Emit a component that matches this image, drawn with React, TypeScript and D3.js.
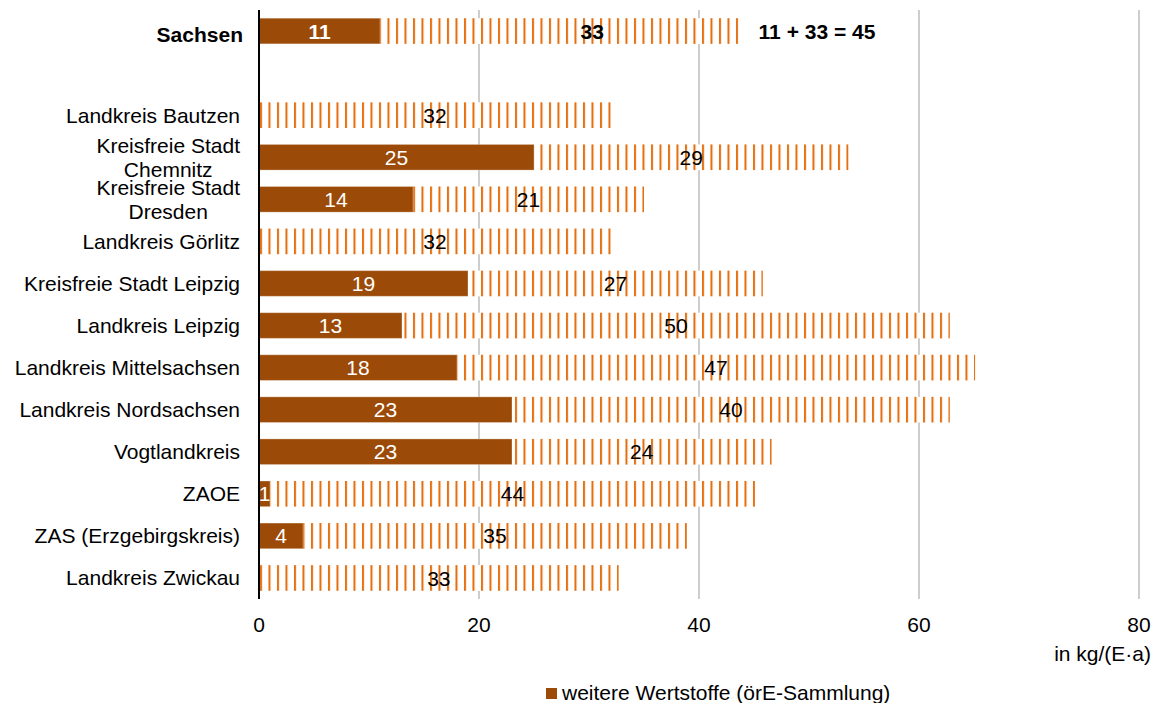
import React, { useEffect, useRef } from "react";
import * as d3 from "d3";

// Regions (an empty slot separates the state total from the districts)
const regions: string[] = [
  "Sachsen",
  "",
  "Landkreis Bautzen",
  "Kreisfreie Stadt\nChemnitz",
  "Kreisfreie Stadt\nDresden",
  "Landkreis Görlitz",
  "Kreisfreie Stadt Leipzig",
  "Landkreis Leipzig",
  "Landkreis Mittelsachsen",
  "Landkreis Nordsachsen",
  "Vogtlandkreis",
  "ZAOE",
  "ZAS (Erzgebirgskreis)",
  "Landkreis Zwickau",
];

// kg per inhabitant and year, solid segment
const weitereWertstoffe: (number | null)[] = [11, null, 0, 25, 14, 0, 19, 13, 18, 23, 23, 1, 4, 0];
// kg per inhabitant and year, hatched segment
const hatchedValues: (number | null)[] = [32.6, null, 32, 28.6, 21, 32, 26.8, 49.8, 47.1, 39.8, 23.6, 44.1, 34.9, 32.7];

const xTicks = [0, 20, 40, 60, 80];
const totalLabel = "11 + 33 = 45";
const unitLabel = "in kg/(E·a)";
const legendLabel = "weitere Wertstoffe (örE-Sammlung)";

const W = 1155;
const H = 703;
const FONT = "'Liberation Sans', Arial, Helvetica, sans-serif";
const SOLID = "#9C4A07";
const STRIPE = "#E36C0A";
const GRID = "#B3B3B3";

export default function App() {
  const ref = useRef<SVGSVGElement | null>(null);

  useEffect(() => {
    const svg = d3.select(ref.current);
    svg.selectAll("*").remove();

    const x = d3.scaleLinear().domain([0, 80]).range([259, 1139]);
    const y = d3
      .scaleBand<string>()
      .domain(regions.map((_, i) => String(i)))
      .range([10, 599])
      .paddingInner(0.39)
      .paddingOuter(0.195);
    const bw = y.bandwidth();

    const defs = svg.append("defs");
    const pat = defs
      .append("pattern")
      .attr("id", "hatch")
      .attr("patternUnits", "userSpaceOnUse")
      .attr("x", x(0))
      .attr("y", 0)
      .attr("width", 8.5)
      .attr("height", 20);
    pat.append("rect").attr("x", 1).attr("y", 0).attr("width", 2).attr("height", 20).attr("fill", STRIPE);

    svg.append("rect").attr("width", W).attr("height", H).attr("fill", "#fff");

    // vertical gridlines
    svg
      .append("g")
      .selectAll("line")
      .data(xTicks.filter((t) => t > 0))
      .join("line")
      .attr("x1", (d) => x(d))
      .attr("x2", (d) => x(d))
      .attr("y1", 10)
      .attr("y2", 599)
      .attr("stroke", GRID)
      .attr("stroke-width", 1.3);

    const rows = regions
      .map((name, i) => ({ name, i, a: weitereWertstoffe[i], b: hatchedValues[i] }))
      .filter((r) => r.a !== null && r.b !== null) as { name: string; i: number; a: number; b: number }[];

    const g = svg.append("g");

    // hatched segment
    rows.forEach((r) => {
      const x0 = x(r.a);
      const x1 = x(r.a + r.b);
      const yy = y(String(r.i))!;
      g.append("rect").attr("x", x0).attr("y", yy).attr("width", x1 - x0).attr("height", bw).attr("fill", "#fff");
      g.append("rect").attr("x", x0).attr("y", yy).attr("width", x1 - x0).attr("height", bw).attr("fill", "url(#hatch)");
    });

    // solid segment
    rows.forEach((r) => {
      if (r.a <= 0) return;
      const yy = y(String(r.i))!;
      g.append("rect")
        .attr("x", x(0))
        .attr("y", yy)
        .attr("width", x(r.a) - x(0))
        .attr("height", bw)
        .attr("fill", SOLID)
        .attr("stroke", "#fff")
        .attr("stroke-opacity", 0.3)
        .attr("stroke-width", 1);
    });

    // value labels
    rows.forEach((r) => {
      const cy = y(String(r.i))! + bw / 2;
      const isTotal = r.i === 0;
      const bold = isTotal ? "bold" : "normal";
      if (r.a > 0) {
        g.append("text")
          .attr("x", (x(0) + x(r.a)) / 2)
          .attr("y", cy)
          .attr("dy", "0.36em")
          .attr("text-anchor", "middle")
          .attr("font-weight", bold)
          .attr("fill", "#fff")
          .text(d3.format(".0f")(r.a));
      }
      g.append("text")
        .attr("x", (x(r.a) + x(r.a + r.b)) / 2 + (isTotal ? 33 : 0))
        .attr("y", cy)
        .attr("dy", "0.36em")
        .attr("text-anchor", "middle")
        .attr("font-weight", bold)
        .attr("fill", "#000")
        .text(d3.format(".0f")(r.b));
      if (isTotal) {
        g.append("text")
          .attr("x", x(r.a + r.b) + 20)
          .attr("y", cy)
          .attr("dy", "0.36em")
          .attr("font-weight", "bold")
          .attr("fill", "#000")
          .text(totalLabel);
      }
    });

    // category axis line
    svg
      .append("line")
      .attr("x1", x(0))
      .attr("x2", x(0))
      .attr("y1", 10)
      .attr("y2", 599)
      .attr("stroke", "#000")
      .attr("stroke-width", 2);

    // category labels
    const lab = svg.append("g");
    regions.forEach((name, i) => {
      if (!name) return;
      const lines = name.split("\n");
      const cy = y(String(i))! + bw / 2 + (i === 0 ? 3 : 0);
      const t = lab
        .append("text")
        .attr("font-weight", i === 0 ? "bold" : "normal")
        .attr("fill", "#000");
      const spans = lines.map((ln, k) =>
        t
          .append("tspan")
          .attr("y", cy + 7.5 + (k - (lines.length - 1) / 2) * 24.5)
          .text(ln)
      );
      if (lines.length === 1) {
        t.attr("text-anchor", "end");
        spans[0].attr("x", i === 0 ? 243 : 240);
      } else {
        const widths = spans.map((s) => (s.node() as SVGTSpanElement).getComputedTextLength());
        const maxW = Math.max(...widths);
        t.attr("text-anchor", "middle");
        spans.forEach((s) => s.attr("x", 240 - maxW / 2));
      }
    });

    // x tick labels
    svg
      .append("g")
      .selectAll("text")
      .data(xTicks)
      .join("text")
      .attr("x", (d) => x(d))
      .attr("y", 631.5)
      .attr("text-anchor", "middle")
      .attr("fill", "#000")
      .text((d) => String(d));

    svg
      .append("text")
      .attr("x", 1151)
      .attr("y", 661)
      .attr("text-anchor", "end")
      .attr("fill", "#000")
      .text(unitLabel);

    // legend
    svg.append("rect").attr("x", 546).attr("y", 688).attr("width", 11).attr("height", 11).attr("fill", SOLID);
    svg.append("text").attr("x", 562).attr("y", 700).attr("fill", "#000").text(legendLabel);
  }, []);

  return (
    <svg
      ref={ref}
      width={W}
      height={H}
      style={{ position: "absolute", left: 0, top: 0, display: "block" }}
      fontFamily={FONT}
      fontSize={21}
    />
  );
}
